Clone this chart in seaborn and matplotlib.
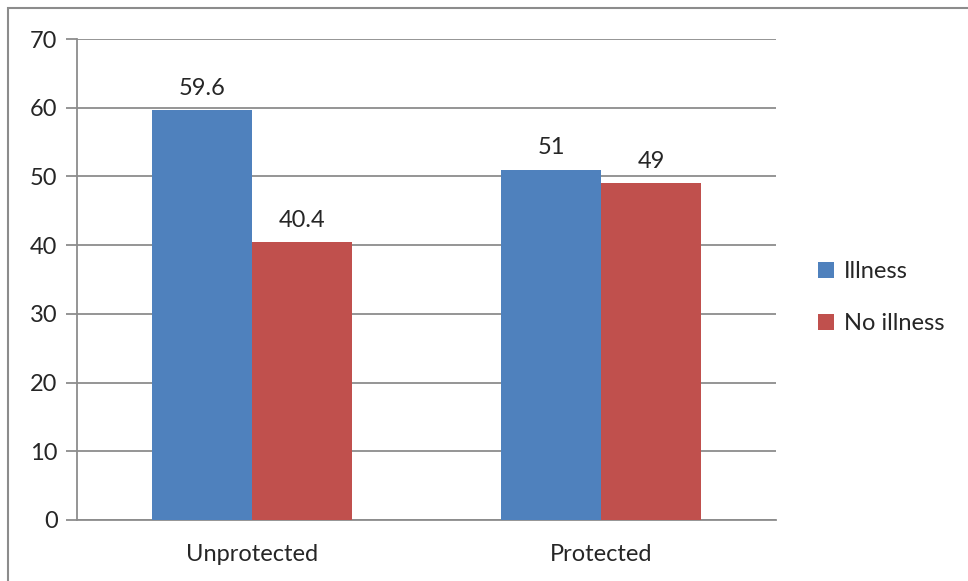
import matplotlib
matplotlib.use("Agg")
import matplotlib.pyplot as plt
import seaborn as sns
import pandas as pd
from matplotlib.patches import Rectangle

groups = ["Unprotected", "Protected"]
series = ["Illness", "No illness"]
illness = [59.6, 51]
no_illness = [40.4, 49]
yticks = [0, 10, 20, 30, 40, 50, 60, 70]

df = pd.DataFrame({
    "group": groups * 2,
    "status": [series[0]] * 2 + [series[1]] * 2,
    "value": illness + no_illness,
})

sns.set_style("white")
plt.rcParams["font.family"] = ["Lato", "DejaVu Sans"]
grey = "#8c8c8c"
fs = 17

fig = plt.figure(figsize=(9.68, 5.81), dpi=100)
ax = fig.add_axes([77 / 968, 1 - 520 / 581, (776 - 77) / 968, (520 - 39) / 581])

sns.barplot(data=df, x="group", y="value", hue="status", order=groups,
            hue_order=series, palette=["#4f81bd", "#c0504d"], width=0.572,
            saturation=1, linewidth=0, ax=ax, zorder=3)

for c in ax.containers:
    ax.bar_label(c, labels=[f"{v:g}" for v in c.datavalues], padding=8, fontsize=fs)

ax.set_ylim(0, 70)
ax.set_yticks(yticks)
ax.set_xlim(-0.5, 1.5)
ax.yaxis.grid(True, color=grey, linewidth=1.3, zorder=0)
ax.set_axisbelow(True)
ax.set_xlabel("")
ax.set_ylabel("")
ax.set_xticks([0, 1])
ax.set_xticklabels(groups, fontsize=fs)
ax.tick_params(axis="x", length=0, pad=17)
ax.set_xticks([-0.5, 0.5, 1.5], minor=True)
ax.tick_params(axis="x", which="minor", length=8, width=1.3, color=grey, direction="out")
ax.tick_params(axis="y", labelsize=fs, length=8, width=1.3, color=grey, direction="out", left=True, pad=6)

for s in ["top", "right"]:
    ax.spines[s].set_visible(False)
for s in ["left", "bottom"]:
    ax.spines[s].set_color(grey)
    ax.spines[s].set_linewidth(1.3)

ax.legend(loc="center left", bbox_to_anchor=(1.03, 0.462), frameon=False, fontsize=fs,
          handlelength=0.65, handleheight=0.65, handletextpad=0.45, labelspacing=1.3)

fig.patches.append(Rectangle((8 / 968, -0.1), 1.2, 1 - 8 / 581 + 0.1, transform=fig.transFigure,
                             fill=False, edgecolor=grey, linewidth=1.5))

fig.savefig("out.png", dpi=100)
